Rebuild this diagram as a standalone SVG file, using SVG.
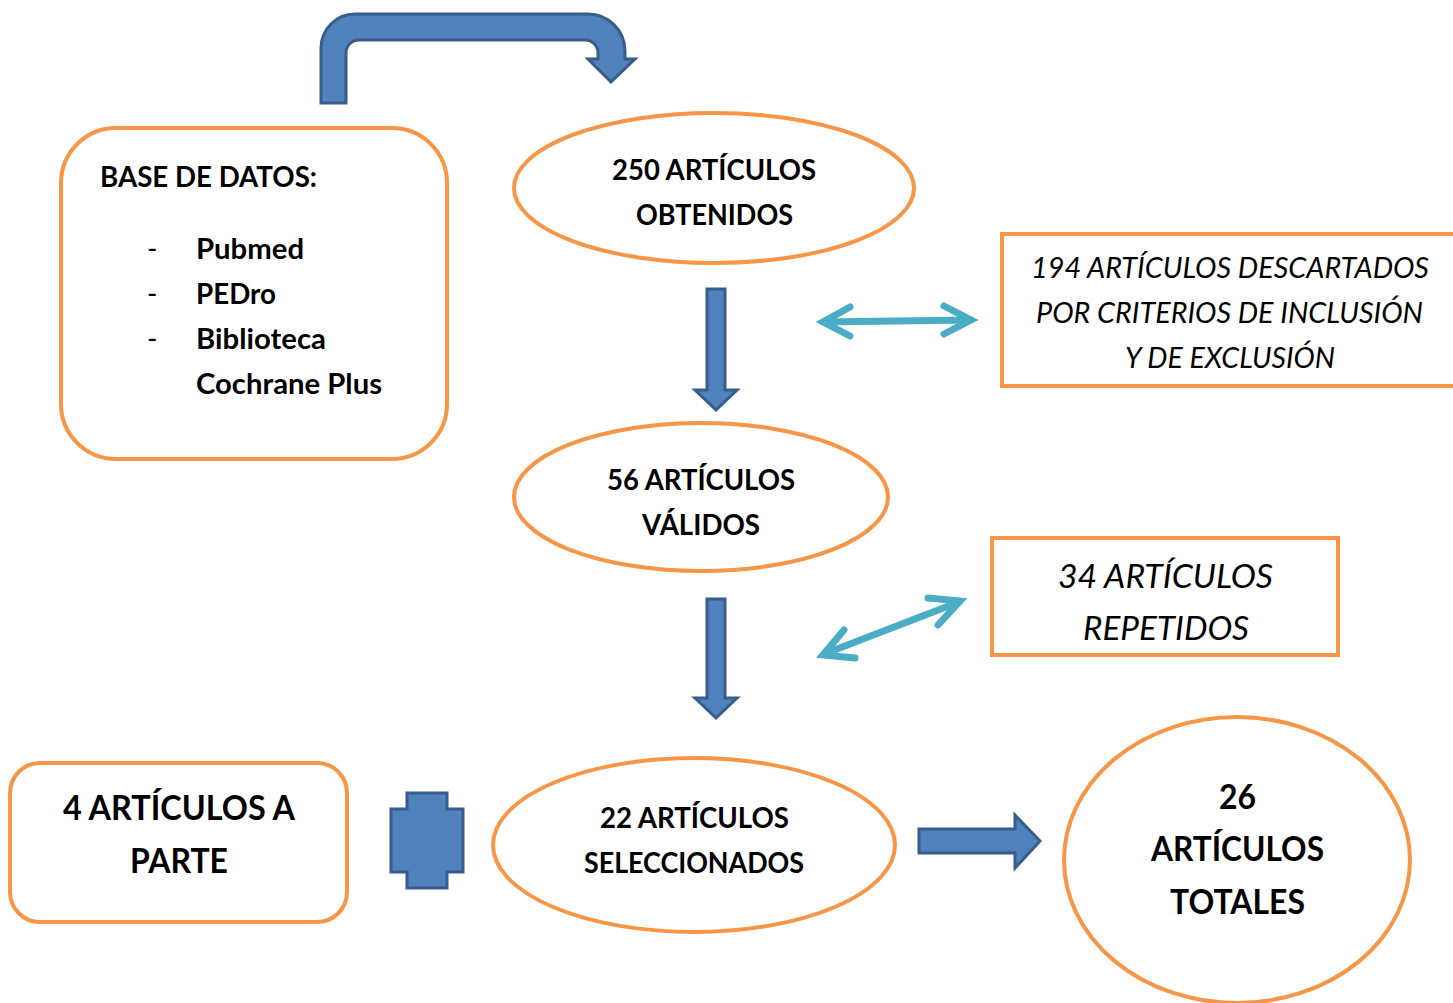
<svg xmlns="http://www.w3.org/2000/svg" width="1453" height="1003" viewBox="0 0 1453 1003">
<style>
.node{fill:#fff;stroke:#F79646;stroke-width:4}
.blue{fill:#4F81BD;stroke:#385D8A;stroke-width:3;stroke-linejoin:miter}
.teal{fill:none;stroke:#4BACC6;stroke-width:7;stroke-linecap:round;stroke-linejoin:miter}
.b{font-family:Lato,"Open Sans","Liberation Sans",sans-serif;font-weight:bold;fill:#000}
.r{font-family:Lato,"Open Sans","Liberation Sans",sans-serif;fill:#000}
.i{font-family:Lato,"Open Sans","Liberation Sans",sans-serif;font-style:italic;fill:#000}
</style>
<rect width="1453" height="1003" fill="#fff"/>
<g id="connectors">
<path class="blue" d="M321,103 L321,48 A34,34 0 0 1 355,14 L588,14 A37,37 0 0 1 625,51 L625,59 L635,59 L611,82 L588,59 L598,59 L598,53 A13,13 0 0 0 585,40 L359,40 A13,13 0 0 0 346,53 L346,103 Z"/>
<path class="blue" d="M707,289 L725,289 L725,390 L737,390 L716,410 L695,390 L707,390 Z"/>
<path class="blue" d="M707,599 L725,599 L725,698 L737,698 L716,718 L695,698 L707,698 Z"/>
<path class="blue" d="M919,829 L1015,829 L1015,815 L1040,841 L1015,868 L1015,853 L919,853 Z"/>
<path class="blue" d="M407,793 L447,793 L447,809 L463,809 L463,872 L447,872 L447,888 L407,888 L407,872 L391,872 L391,809 L407,809 Z"/>
<line class="teal" x1="824" y1="322" x2="970" y2="320"/>
<polyline class="teal" points="850,307 823,322 850,336"/>
<polyline class="teal" points="944,306 971,320 944,334"/>
<line class="teal" x1="824" y1="654" x2="959" y2="602"/>
<polyline class="teal" points="844,630 823,655 855,658"/>
<polyline class="teal" points="928,598 960,601 938,625"/>
</g>
<g id="node-bases">
<rect class="node" x="61" y="128" width="386" height="331" rx="55" ry="55"/>
<text class="b" font-size="28" x="100" y="187" textLength="217" lengthAdjust="spacingAndGlyphs">BASE DE DATOS:</text>
<text class="r" font-size="28" x="147" y="259">-</text>
<text class="r" font-size="28" x="147" y="304">-</text>
<text class="r" font-size="28" x="147" y="349">-</text>
<text class="b" font-size="28" x="196" y="259" textLength="108" lengthAdjust="spacingAndGlyphs">Pubmed</text>
<text class="b" font-size="28" x="196" y="304" textLength="80" lengthAdjust="spacingAndGlyphs">PEDro</text>
<text class="b" font-size="28" x="196" y="349" textLength="130" lengthAdjust="spacingAndGlyphs">Biblioteca</text>
<text class="b" font-size="28" x="196" y="394" textLength="186" lengthAdjust="spacingAndGlyphs">Cochrane Plus</text>
</g>
<g id="node-250">
<ellipse class="node" cx="714" cy="188" rx="200" ry="75"/>
<text class="b" font-size="29" x="612" y="180" textLength="204" lengthAdjust="spacingAndGlyphs">250 ARTÍCULOS</text>
<text class="b" font-size="29" x="636" y="225" textLength="157" lengthAdjust="spacingAndGlyphs">OBTENIDOS</text>
</g>
<g id="node-194">
<rect class="node" x="1002" y="234" width="470" height="152"/>
<text class="i" font-size="28" x="1031" y="278" textLength="398" lengthAdjust="spacingAndGlyphs">194 ARTÍCULOS DESCARTADOS</text>
<text class="i" font-size="28" x="1036" y="323" textLength="387" lengthAdjust="spacingAndGlyphs">POR CRITERIOS DE INCLUSIÓN</text>
<text class="i" font-size="28" x="1125" y="368" textLength="210" lengthAdjust="spacingAndGlyphs">Y DE EXCLUSIÓN</text>
</g>
<g id="node-56">
<ellipse class="node" cx="701" cy="497" rx="187" ry="74"/>
<text class="b" font-size="29" x="607" y="490" textLength="188" lengthAdjust="spacingAndGlyphs">56 ARTÍCULOS</text>
<text class="b" font-size="29" x="642" y="535" textLength="118" lengthAdjust="spacingAndGlyphs">VÁLIDOS</text>
</g>
<g id="node-34">
<rect class="node" x="992" y="538" width="346" height="117"/>
<text class="i" font-size="33" x="1058" y="588" textLength="215" lengthAdjust="spacingAndGlyphs">34 ARTÍCULOS</text>
<text class="i" font-size="33" x="1083" y="640" textLength="166" lengthAdjust="spacingAndGlyphs">REPETIDOS</text>
</g>
<g id="node-4">
<rect class="node" x="10" y="763" width="337" height="159" rx="30" ry="30"/>
<text class="b" font-size="34" x="63" y="820" textLength="232" lengthAdjust="spacingAndGlyphs">4 ARTÍCULOS A</text>
<text class="b" font-size="34" x="130" y="873" textLength="98" lengthAdjust="spacingAndGlyphs">PARTE</text>
</g>
<g id="node-22">
<ellipse class="node" cx="694" cy="845" rx="201" ry="87"/>
<text class="b" font-size="29" x="600" y="828" textLength="189" lengthAdjust="spacingAndGlyphs">22 ARTÍCULOS</text>
<text class="b" font-size="29" x="584" y="873" textLength="220" lengthAdjust="spacingAndGlyphs">SELECCIONADOS</text>
</g>
<g id="node-26">
<ellipse class="node" cx="1237" cy="860" rx="173" ry="143"/>
<text class="b" font-size="35" x="1219" y="809" textLength="37" lengthAdjust="spacingAndGlyphs">26</text>
<text class="b" font-size="35" x="1151" y="861" textLength="173" lengthAdjust="spacingAndGlyphs">ARTÍCULOS</text>
<text class="b" font-size="35" x="1170" y="914" textLength="135" lengthAdjust="spacingAndGlyphs">TOTALES</text>
</g>
</svg>
